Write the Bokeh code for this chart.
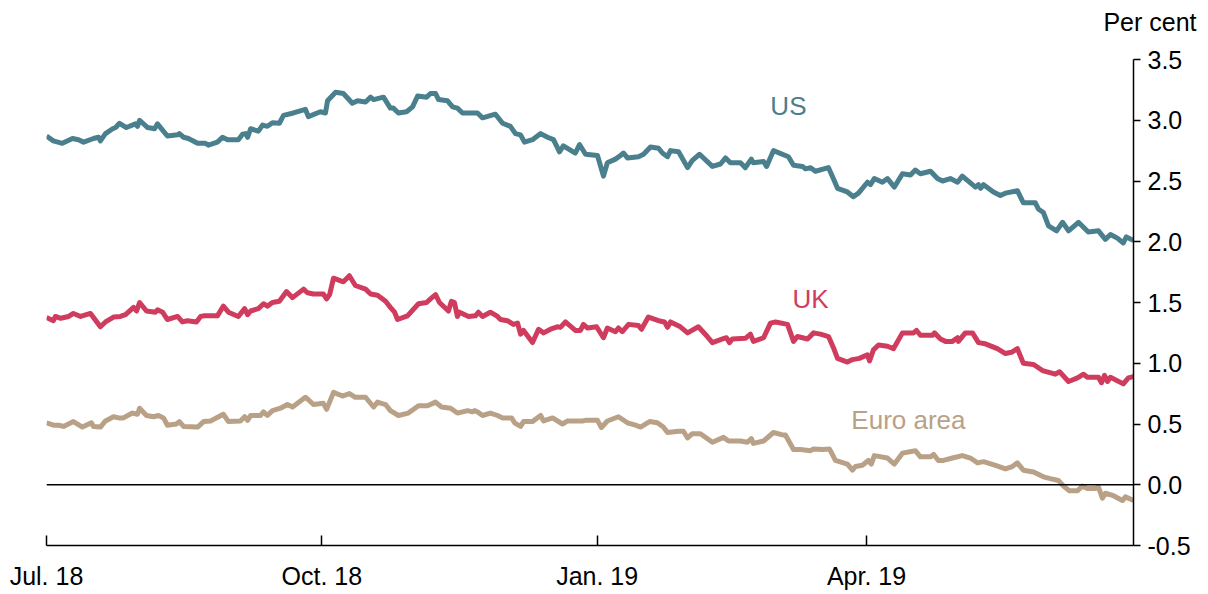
from bokeh.plotting import figure
from bokeh.models import Range1d, FixedTicker, Label, Span, PrintfTickFormatter, Title
from bokeh.embed import file_html
from bokeh.resources import INLINE

# x values: days since 1 July 2018
tick_days = [0, 92, 184, 274]
tick_labels = ["Jul. 18", "Oct. 18", "Jan. 19", "Apr. 19"]

us_days = [0, 2.3, 5.3, 8.7, 10.7, 12.4, 15.7, 17.4, 18.0, 19.7, 22.1, 23.1, 24.4, 26.7, 29.7, 30.4, 31.1, 33.8, 36.1, 37.1,
           38.1, 40.4, 43.8, 44.4, 45.8, 47.4, 50.5, 53.1, 54.1, 57.1, 58.8, 60.5, 64.1, 65.5, 66.5, 67.2, 68.2, 70.8, 72.2, 73.8,
           75.5, 77.8, 79.2, 82.5, 86.5, 87.5, 91.5, 93.2, 93.9, 96.6, 99.2, 102.2, 103.9, 106.6, 108.3, 109.3, 112.6, 114.9, 115.9, 117.6,
           120.3, 122.3, 124.0, 127.0, 128.3, 130.0, 131.0, 134.0, 135.7, 137.3, 139.0, 144.0, 145.7, 150.0, 152.4, 155.0, 156.7, 158.4, 159.7, 162.4,
           165.1, 167.4, 169.4, 171.4, 172.7, 176.7, 178.1, 180.1, 184.1, 186.1, 187.4, 190.1, 191.8, 192.8, 194.1, 197.8, 199.5, 201.8, 204.5, 205.8,
           207.5, 208.5, 211.2, 214.2, 215.8, 218.2, 222.5, 225.2, 226.9, 228.5, 231.9, 233.5, 235.5, 236.2, 239.6, 240.6, 242.9, 247.9, 249.6, 252.6,
           253.6, 255.3, 256.9, 261.3, 262.9, 264.3, 267.6, 269.6, 271.3, 274.3, 275.3, 276.6, 279.3, 281.0, 283.3, 286.0, 288.7, 290.3, 292.0, 295.4,
           297.7, 299.4, 302.0, 304.4, 306.0, 310.4, 311.4, 312.1, 313.1, 316.4, 318.7, 320.4, 324.4, 326.4, 330.4, 331.4, 333.1, 334.8, 337.5, 339.5,
           341.5, 344.8, 348.1, 351.5, 353.8, 355.5, 357.8, 359.8, 360.8, 363.2]
us_vals = [2.87, 2.83, 2.81, 2.85, 2.84, 2.82, 2.85, 2.86, 2.83, 2.89, 2.93, 2.94, 2.975, 2.94, 2.97, 2.95, 3.00, 2.94, 2.93, 2.97,
           2.94, 2.87, 2.88, 2.89, 2.86, 2.85, 2.81, 2.81, 2.795, 2.82, 2.86, 2.84, 2.84, 2.885, 2.89, 2.86, 2.93, 2.91, 2.96, 2.95,
           2.98, 2.975, 3.04, 3.06, 3.09, 3.03, 3.07, 3.06, 3.16, 3.23, 3.22, 3.14, 3.16, 3.15, 3.19, 3.17, 3.19, 3.10, 3.10, 3.06,
           3.07, 3.11, 3.20, 3.19, 3.22, 3.22, 3.17, 3.16, 3.11, 3.10, 3.06, 3.06, 3.02, 3.05, 2.975, 2.95, 2.89, 2.88, 2.82, 2.84,
           2.89, 2.86, 2.84, 2.74, 2.79, 2.73, 2.80, 2.72, 2.71, 2.54, 2.65, 2.68, 2.71, 2.73, 2.69, 2.70, 2.72, 2.78, 2.77, 2.73,
           2.70, 2.75, 2.74, 2.61, 2.67, 2.72, 2.62, 2.64, 2.69, 2.65, 2.65, 2.61, 2.68, 2.65, 2.66, 2.62, 2.75, 2.70, 2.63, 2.62,
           2.60, 2.61, 2.58, 2.61, 2.52, 2.44, 2.41, 2.37, 2.40, 2.49, 2.47, 2.52, 2.49, 2.52, 2.45, 2.56, 2.55, 2.59, 2.56, 2.58,
           2.52, 2.50, 2.52, 2.49, 2.54, 2.45, 2.47, 2.44, 2.47, 2.41, 2.38, 2.40, 2.42, 2.32, 2.32, 2.27, 2.24, 2.13, 2.09, 2.16,
           2.09, 2.16, 2.08, 2.09, 2.02, 2.06, 2.03, 1.99, 2.04, 2.01]

uk_days = [0, 2.3, 3.0, 4.7, 7.4, 9.0, 11.4, 14.7, 18.0, 19.7, 22.4, 24.7, 26.4, 29.1, 30.1, 31.1, 33.4, 36.4, 37.1, 38.8,
           40.4, 43.8, 45.4, 47.1, 50.1, 51.5, 52.5, 57.1, 59.1, 60.8, 64.1, 66.2, 67.2, 68.2, 70.8, 72.5, 73.8, 75.5, 77.8, 80.2,
           82.2, 85.9, 87.2, 89.2, 92.5, 93.6, 94.6, 95.9, 99.2, 101.2, 103.2, 106.6, 108.3, 110.6, 113.3, 114.9, 116.3, 117.3, 120.6, 124.3,
           127.0, 128.3, 130.0, 131.3, 134.3, 135.3, 136.3, 137.3, 138.0, 141.0, 143.3, 144.3, 145.7, 148.3, 150.7, 151.7, 154.0, 156.0, 157.4, 158.4,
           159.4, 162.4, 164.4, 166.1, 168.4, 170.7, 171.7, 173.4, 176.7, 178.4, 179.4, 180.8, 183.8, 186.1, 187.4, 190.1, 191.1, 192.4, 194.5, 197.8,
           198.8, 201.1, 204.5, 206.5, 207.5, 208.5, 211.8, 214.2, 217.8, 220.8, 222.5, 225.9, 227.2, 228.2, 229.2, 233.5, 235.2, 236.2, 239.6, 241.9,
           243.6, 247.6, 249.6, 250.9, 254.3, 256.3, 258.6, 261.3, 262.9, 264.3, 267.6, 269.3, 271.6, 274.3, 275.0, 276.3, 278.0, 281.0, 283.0, 286.0,
           289.7, 290.7, 292.0, 296.0, 296.7, 298.7, 300.4, 302.7, 304.4, 304.7, 307.0, 309.4, 311.4, 313.7, 317.7, 320.4, 322.4, 324.4, 326.4, 329.8,
           332.8, 337.1, 338.5, 341.5, 344.5, 346.5, 347.8, 351.5, 352.5, 353.5, 354.5, 355.5, 359.8, 361.5, 363.2]
uk_vals = [1.377, 1.35, 1.385, 1.37, 1.385, 1.41, 1.385, 1.41, 1.30, 1.34, 1.38, 1.385, 1.40, 1.46, 1.43, 1.50, 1.43, 1.42, 1.44, 1.42,
           1.36, 1.385, 1.34, 1.35, 1.34, 1.385, 1.39, 1.39, 1.47, 1.42, 1.385, 1.45, 1.40, 1.43, 1.45, 1.49, 1.47, 1.50, 1.51, 1.59,
           1.54, 1.61, 1.58, 1.57, 1.57, 1.53, 1.565, 1.70, 1.67, 1.72, 1.64, 1.61, 1.57, 1.56, 1.51, 1.46, 1.42, 1.36, 1.39, 1.49,
           1.50, 1.53, 1.565, 1.50, 1.43, 1.51, 1.50, 1.385, 1.42, 1.385, 1.39, 1.42, 1.385, 1.42, 1.385, 1.36, 1.35, 1.32, 1.33, 1.24,
           1.27, 1.17, 1.28, 1.25, 1.28, 1.30, 1.295, 1.34, 1.27, 1.27, 1.32, 1.29, 1.30, 1.21, 1.29, 1.26, 1.29, 1.26, 1.32, 1.31,
           1.28, 1.38, 1.35, 1.34, 1.295, 1.34, 1.30, 1.25, 1.30, 1.22, 1.17, 1.20, 1.21, 1.17, 1.20, 1.205, 1.24, 1.18, 1.21, 1.33,
           1.34, 1.32, 1.18, 1.22, 1.20, 1.25, 1.24, 1.22, 1.13, 1.04, 1.01, 1.03, 1.04, 1.07, 1.02, 1.11, 1.15, 1.14, 1.12, 1.25,
           1.25, 1.27, 1.23, 1.23, 1.25, 1.20, 1.18, 1.18, 1.21, 1.18, 1.25, 1.25, 1.17, 1.16, 1.12, 1.08, 1.09, 1.12, 1.00, 0.99,
           0.94, 0.91, 0.93, 0.85, 0.88, 0.91, 0.885, 0.885, 0.84, 0.90, 0.85, 0.885, 0.83, 0.88, 0.89]

euro_days = [0, 2.3, 4.0, 5.7, 9.0, 12.0, 15.0, 15.7, 18.0, 19.7, 22.4, 24.1, 25.7, 28.7, 30.4, 31.1, 33.4, 35.8, 37.4, 39.1,
             40.4, 43.4, 44.4, 45.8, 50.5, 52.5, 54.8, 59.1, 60.8, 64.8, 66.2, 67.2, 68.2, 71.5, 72.5, 73.8, 75.5, 78.2, 80.5, 82.2,
             86.5, 87.5, 89.2, 92.5, 93.6, 95.9, 98.9, 101.2, 103.2, 106.6, 109.3, 110.6, 113.3, 114.9, 117.6, 120.9, 124.3, 127.3, 130.0, 132.0,
             135.0, 137.3, 140.7, 142.3, 143.0, 144.0, 145.7, 148.3, 150.7, 152.4, 155.4, 156.4, 158.4, 159.4, 162.4, 165.1, 166.1, 169.1, 172.4, 174.1,
             179.1, 180.1, 184.1, 185.4, 187.4, 191.1, 194.1, 196.8, 198.5, 201.5, 204.1, 206.1, 207.5, 211.2, 212.8, 214.2, 215.8, 218.5, 222.5, 226.2,
             227.9, 231.9, 234.2, 235.5, 236.2, 239.6, 242.9, 245.9, 246.9, 249.6, 251.9, 255.3, 256.3, 259.3, 261.6, 263.6, 267.6, 269.3, 270.3, 272.6,
             274.6, 275.6, 276.6, 281.0, 283.3, 286.0, 290.3, 292.0, 295.4, 296.4, 298.0, 299.7, 302.7, 306.0, 308.7, 311.1, 313.1, 317.1, 320.4, 322.7,
             324.4, 326.4, 329.8, 333.1, 335.4, 338.1, 339.8, 341.8, 344.5, 346.1, 347.8, 350.5, 351.5, 352.8, 353.8, 356.5, 359.5, 360.5, 363.2]
euro_vals = [0.51, 0.49, 0.49, 0.48, 0.52, 0.475, 0.51, 0.48, 0.475, 0.525, 0.56, 0.55, 0.55, 0.59, 0.58, 0.63, 0.57, 0.56, 0.57, 0.55,
             0.49, 0.50, 0.52, 0.48, 0.475, 0.52, 0.525, 0.58, 0.52, 0.525, 0.56, 0.53, 0.57, 0.57, 0.60, 0.57, 0.61, 0.63, 0.66, 0.64,
             0.72, 0.70, 0.66, 0.67, 0.62, 0.76, 0.73, 0.75, 0.72, 0.72, 0.64, 0.68, 0.66, 0.61, 0.57, 0.59, 0.65, 0.65, 0.68, 0.64,
             0.63, 0.59, 0.61, 0.60, 0.61, 0.60, 0.57, 0.59, 0.57, 0.55, 0.55, 0.51, 0.48, 0.52, 0.52, 0.57, 0.525, 0.55, 0.50, 0.525,
             0.525, 0.53, 0.53, 0.47, 0.525, 0.56, 0.51, 0.49, 0.475, 0.52, 0.51, 0.475, 0.43, 0.44, 0.44, 0.385, 0.42, 0.42, 0.35, 0.39,
             0.36, 0.36, 0.35, 0.38, 0.34, 0.36, 0.43, 0.41, 0.41, 0.29, 0.29, 0.28, 0.295, 0.29, 0.295, 0.20, 0.17, 0.12, 0.15, 0.16,
             0.20, 0.17, 0.24, 0.22, 0.17, 0.26, 0.28, 0.23, 0.23, 0.25, 0.20, 0.20, 0.22, 0.24, 0.22, 0.18, 0.19, 0.16, 0.13, 0.15,
             0.18, 0.12, 0.105, 0.065, 0.05, 0.035, -0.01, -0.05, -0.05, -0.01, -0.03, -0.03, -0.02, -0.11, -0.07, -0.09, -0.13, -0.10, -0.13]

y_ticks = [-0.5, 0.0, 0.5, 1.0, 1.5, 2.0, 2.5, 3.0, 3.5]

US_COLOR = "#4a7f8e"
UK_COLOR = "#d03c5e"
EU_COLOR = "#b9a187"
FONT = "Liberation Sans"

p = figure(width=1200, height=592, output_backend="svg", toolbar_location=None,
           x_range=Range1d(0, 363.2), y_range=Range1d(-0.5, 3.5),
           y_axis_location="right",
           min_border_left=46, min_border_right=67, min_border_top=59, min_border_bottom=45)
p.outline_line_color = None
p.grid.visible = False
p.background_fill_color = "white"
p.border_fill_color = "white"

# spacer panel nearest the frame, then the unit label above it
p.add_layout(Title(text=" ", text_font=FONT, text_font_size="12px", standoff=0), "above")
p.add_layout(Title(text="Per cent", align="right", offset=-63, standoff=12, vertical_align="top",
                   text_font=FONT, text_font_size="25px", text_font_style="normal",
                   text_color="black"), "above")

# zero line
p.add_layout(Span(location=0, dimension="width", line_color="black", line_width=1.5))

p.line(us_days, us_vals, line_color=US_COLOR, line_width=5, line_join="round")
p.line(uk_days, uk_vals, line_color=UK_COLOR, line_width=5, line_join="round")
p.line(euro_days, euro_vals, line_color=EU_COLOR, line_width=5, line_join="round")

# x axis
xa = p.xaxis[0]
xa.ticker = FixedTicker(ticks=tick_days)
xa.major_label_overrides = {d: l for d, l in zip(tick_days, tick_labels)}
xa.major_tick_in = 10
xa.major_tick_out = 0
xa.minor_tick_line_color = None
xa.axis_line_color = "black"
xa.axis_line_width = 1.5
xa.major_tick_line_width = 1.5
xa.major_label_text_font = FONT
xa.major_label_text_font_size = "25px"
xa.major_label_text_color = "black"
xa.major_label_standoff = 16

# y axis (right)
ya = p.yaxis[0]
ya.ticker = FixedTicker(ticks=y_ticks)
ya.formatter = PrintfTickFormatter(format="%.1f")
ya.major_tick_in = 0
ya.major_tick_out = 7
ya.minor_tick_line_color = None
ya.axis_line_color = "black"
ya.axis_line_width = 1.5
ya.major_tick_line_width = 1.5
ya.major_label_text_font = FONT
ya.major_label_text_font_size = "25px"
ya.major_label_text_color = "black"
ya.major_label_standoff = 7

p.add_layout(Label(x=247.9, y=3.115, text="US", text_font=FONT, text_font_size="26px",
                   text_color=US_COLOR, text_align="center", text_baseline="middle"))
p.add_layout(Label(x=255.3, y=1.53, text="UK", text_font=FONT, text_font_size="26px",
                   text_color=UK_COLOR, text_align="center", text_baseline="middle"))
p.add_layout(Label(x=288.0, y=0.53, text="Euro area", text_font=FONT, text_font_size="26px",
                   text_color=EU_COLOR, text_align="center", text_baseline="middle"))

open("out.html", "w").write(file_html(p, INLINE))
